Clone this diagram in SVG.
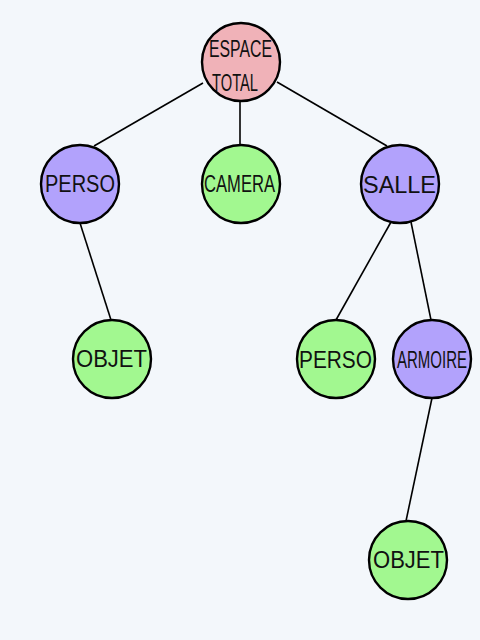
<svg xmlns="http://www.w3.org/2000/svg" width="480" height="640" viewBox="0 0 480 640">
<style>
.n{stroke:#000;stroke-width:2.4}
.pink{fill:#f0b2b8}
.purple{fill:#b2a2fc}
.green{fill:#a2f890}
.e{stroke:#000;stroke-width:1.6;fill:none}
text{font-family:"Liberation Sans",Arial,sans-serif;font-size:23px;fill:#111}
</style>
<rect width="480" height="640" fill="#f3f7fb"/>
<g id="connectors">
<line class="e" x1="203" y1="83" x2="94" y2="146"/>
<line class="e" x1="240" y1="101" x2="240" y2="145"/>
<line class="e" x1="277" y1="82" x2="387" y2="146"/>
<line class="e" x1="80" y1="223" x2="111" y2="320"/>
<line class="e" x1="391" y1="222" x2="336" y2="320"/>
<line class="e" x1="411" y1="222" x2="431" y2="320"/>
<line class="e" x1="432" y1="398" x2="406" y2="521"/>
</g>
<g id="espace-total">
<circle class="n pink" cx="241" cy="62" r="39"/>
<text x="209" y="57" font-size="21" textLength="63" lengthAdjust="spacingAndGlyphs">ESPACE</text>
<text x="212" y="91" font-size="22" textLength="46" lengthAdjust="spacingAndGlyphs">TOTAL</text>
</g>
<g id="perso1">
<circle class="n purple" cx="80" cy="184" r="39"/>
<text x="45" y="192" textLength="70" lengthAdjust="spacingAndGlyphs">PERSO</text>
</g>
<g id="camera">
<circle class="n green" cx="241" cy="184" r="39"/>
<text x="204" y="192" font-size="22" textLength="71" lengthAdjust="spacingAndGlyphs">CAMERA</text>
</g>
<g id="salle">
<circle class="n purple" cx="400" cy="184" r="39"/>
<text x="363" y="193" font-size="24" textLength="73" lengthAdjust="spacingAndGlyphs">SALLE</text>
</g>
<g id="objet1">
<circle class="n green" cx="112" cy="359" r="39"/>
<text x="76" y="367" textLength="71" lengthAdjust="spacingAndGlyphs">OBJET</text>
</g>
<g id="perso2">
<circle class="n green" cx="336" cy="359" r="39"/>
<text x="299" y="368" font-size="24" textLength="73" lengthAdjust="spacingAndGlyphs">PERSO</text>
</g>
<g id="armoire">
<circle class="n purple" cx="432" cy="359" r="39"/>
<text x="397" y="368" font-size="22" textLength="70" lengthAdjust="spacingAndGlyphs">ARMOIRE</text>
</g>
<g id="objet2">
<circle class="n green" cx="408" cy="560" r="39"/>
<text x="373" y="568" textLength="71" lengthAdjust="spacingAndGlyphs">OBJET</text>
</g>
</svg>
